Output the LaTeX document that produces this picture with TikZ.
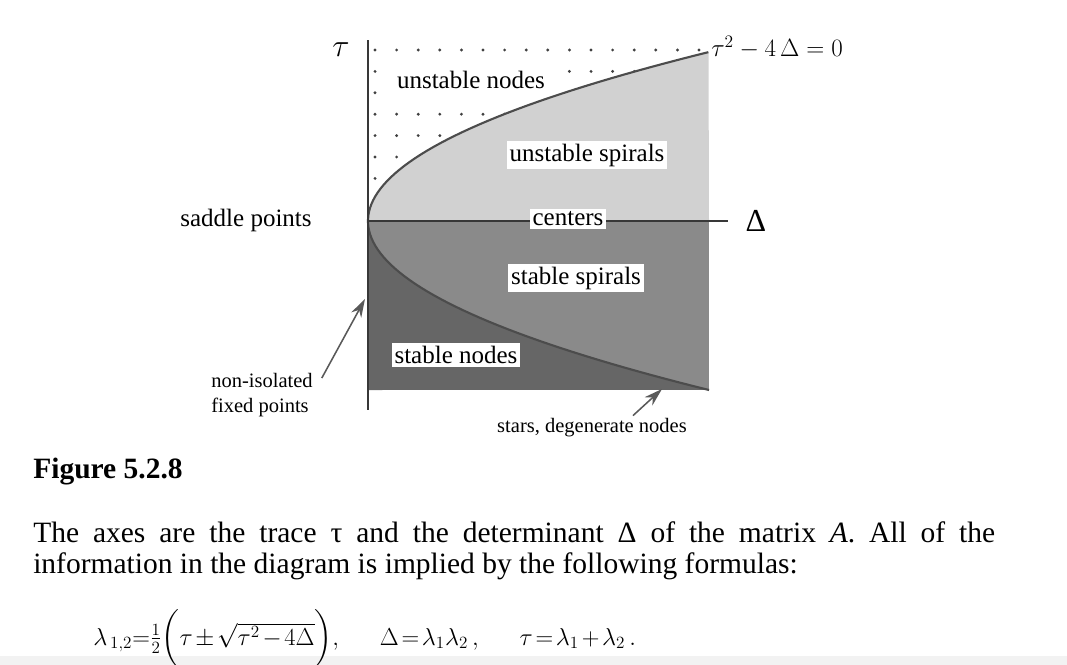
\RequirePackage{fix-cm}
\documentclass[tikz,border=0pt]{standalone}
\usepackage{amsmath}
\usepackage{fontspec}
\setmainfont{Liberation Serif}
\usetikzlibrary{arrows.meta}
\newlength\pu
\setlength\pu{0.025cm}
\newcommand\fs[2]{\fontsize{#1\pu}{#2\pu}\selectfont}

\begin{document}
\begin{tikzpicture}[x=0.025cm, y=-0.025cm,
    axis/.style={draw=black!78, line width=1.5pt},
    curve/.style={draw=black!70, line width=1.5pt},
    lbl/.style={font=\fs{25}{30}, inner sep=2pt},
    boxlbl/.style={lbl, fill=white},
    small/.style={font=\fs{20.5}{25}, inner sep=2pt},
    pointer/.style={draw=black!65, line width=1.1pt, -{Stealth[length=13pt, width=8pt]}},
    body/.style={font=\fs{29.5}{35}, anchor=base west, inner sep=0pt}]
  \useasboundingbox (0,0) rectangle (1067,665);
  \fill[black!5] (0,656) rectangle (1067,665);

  % regions of the trace-determinant plane
  \fill[black!18] (368,221) -- plot[domain=0:1, samples=60] ({368+341*\x*\x},{221-169*\x}) -- (709,221) -- cycle;
  \fill[black!46] (368,221) rectangle (709,390);
  \fill[black!60] (368,221) -- plot[domain=0:1, samples=60] ({368+341*\x*\x},{221+169*\x}) -- (368,390) -- cycle;

  % dots above the parabola
  \begin{scope}
    \clip (371,42) -- (716,42) -- (716,52) -- plot[domain=1:0, samples=60] ({368+341*\x*\x},{221-169*\x}) -- cycle;
    \foreach \r in {0,...,6}
      \foreach \c in {0,...,15}
        \fill[black!75] (375+21.6*\c, 50+21.4*\r) circle (1.6);
  \end{scope}
  \node[lbl, fill=white, inner xsep=5\pu, inner ysep=9\pu] (unnodes) at (471,80) {unstable nodes};

  \draw[curve] plot[domain=-1:1, samples=90] ({368+341*\x*\x},{221-169*\x});
  \draw[axis] (368,40) -- (368,410);
  \draw[axis] (368,221) -- (728,221);

  \node[font=\fs{32}{34}] (taulbl) at (341,50) {$\tau$};
  \node[font=\fs{32}{34}] (deltalbl) at (756,221) {Δ};
  \node[font=\fs{25}{30}, anchor=west, inner sep=0pt] (parabeq) at (711,47) {$\tau^2 - 4\,\Delta = 0$};

  \node[boxlbl] (unspirals) at (587,155) {unstable spirals};
  \node[boxlbl] (centers) at (568,219) {centers};
  \node[boxlbl] (stspirals) at (576,278) {stable spirals};
  \node[boxlbl] (stnodes) at (456,355) {stable nodes};
  \node[lbl] (saddle) at (246,220) {saddle points};
  \node[small, align=left] (nonisol) at (262,395) {non-isolated\\fixed points};
  \node[small] (stars) at (592,428) {stars, degenerate nodes};

  \coordinate (nonisoltip) at (365,299);
  \coordinate (starstip) at (662,389);
  \draw[pointer] ([shift={(6,8)}]nonisol.north east) -- (nonisoltip);
  \draw[pointer] ([xshift=41\pu]stars.north) -- (starstip);

  % caption and text
  \node[body, font=\bfseries\fs{29.5}{35}] (figtitle) at (33,478) {Figure 5.2.8};
  \node[body] (bodyone) at (33,542) {\hbox to 962\pu{The axes are the trace τ and the determinant Δ of the matrix \textit{A}. All of the}};
  \node[body] (bodytwo) at (33,573) {information in the diagram is implied by the following formulas:};
  \node[body, font=\fs{24.5}{28}] (formula) at (93,645) {\thickmuskip=2mu \medmuskip=2mu
    $\lambda_{\,1,2}{=}\tfrac{1}{2}\biggl(\tau\pm\sqrt{\tau^2-4\Delta}\biggr),\quad\enskip \Delta=\lambda_1\lambda_2\,,\quad\enskip \tau=\lambda_1+\lambda_2\,.$};
\end{tikzpicture}
\end{document}
